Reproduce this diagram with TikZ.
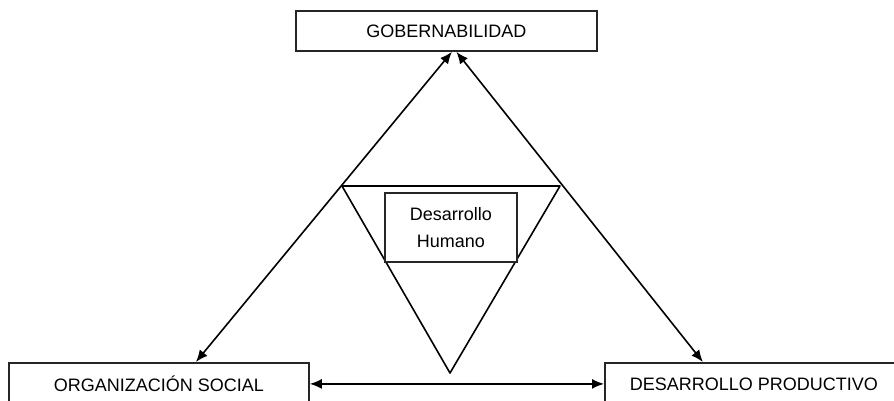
\documentclass[tikz,border=0pt]{standalone}
\usepackage{fontspec}
\setmainfont{Liberation Sans}
\usetikzlibrary{arrows.meta}

\tikzset{
  box/.style={draw=black!85, rectangle, line width=1.8pt, inner sep=0pt, anchor=north west, align=center},
  arr/.style={line width=1.6pt, {Latex[length=12pt,width=10pt]}-{Latex[length=12pt,width=10pt]}}
}

\begin{document}
\begin{tikzpicture}[x=1pt, y=-1pt, font=\fontsize{18}{27}\selectfont]
\clip (0,0) rectangle (894,400);
\fill[white] (0,0) rectangle (894,400);
% boxes
\node[box, minimum width=301pt, minimum height=40pt] (gob) at (295,10) {GOBERNABILIDAD};
\node[box, minimum width=300pt, minimum height=42pt] (org) at (8,362) {ORGANIZACIÓN SOCIAL};
\node[box, minimum width=298pt, minimum height=42pt] (prod) at (604,362) {DESARROLLO PRODUCTIVO};
% inner triangle
\draw[line width=1.6pt, line join=round] (342,186) -- (560,186) -- (450,373) -- cycle;
\node[box, fill=white, minimum width=132pt, minimum height=69pt] (dh) at (384,192) {Desarrollo\\Humano};
% arrows
\draw[arr] ([xshift=5.5pt]gob.south) -- ([xshift=37pt]org.north);
\draw[arr] ([xshift=10pt]gob.south) -- ([xshift=-51pt]prod.north);
\draw[arr] (org.east) -- (prod.west);
\end{tikzpicture}
\end{document}
